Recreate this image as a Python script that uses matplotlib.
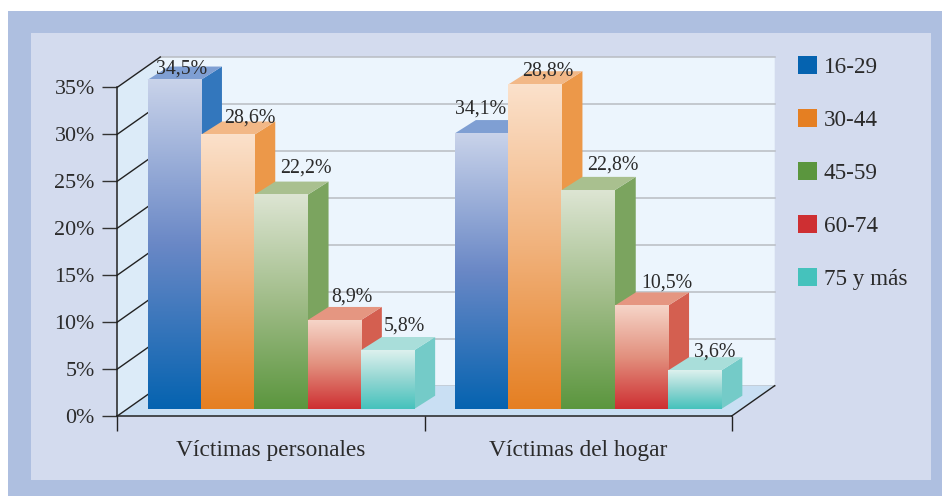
import numpy as np
import matplotlib
matplotlib.use("Agg")
import matplotlib.pyplot as plt
from matplotlib.colors import LinearSegmentedColormap
from matplotlib.patches import Patch, Polygon, Rectangle

categories = ["Víctimas personales", "Víctimas del hogar"]
ages = ["16-29", "30-44", "45-59", "60-74", "75 y más"]
y_ticks = [0, 5, 10, 15, 20, 25, 30, 35]
y_labels = ["0%", "5%", "10%", "15%", "20%", "25%", "30%", "35%"]

# bar heights as read against the axis (the printed labels do not always agree)
heights_personales = [35.05, 29.2, 22.8, 9.45, 6.25]
heights_hogar = [29.35, 34.55, 23.3, 11.0, 4.1]
labels_personales = ["34,5%", "28,6%", "22,2%", "8,9%", "5,8%"]
labels_hogar = ["34,1%", "28,8%", "22,8%", "10,5%", "3,6%"]

W, H = 942, 496
TXT = "#2b2b2b"
FONT = "Liberation Serif"
FS_TICK = 15.8
FS_CAT = 16.8
FS_LEG = 16.7
FS_VAL = 14.3

# colours per age group: legend/bottom, mid, top of front, side, top face
bottoms = ["#0563B0", "#E57F22", "#5B963E", "#CE2F32", "#45C2BC"]
mids = ["#6A88C6", "#F1B27C", "#A0BC88", "#E2907E", "#92D6D2"]
fronts = ["#C9D3EA", "#FBE1CB", "#DDE5D3", "#F6D5C8", "#DDF1EE"]
sides = ["#3377BD", "#EC9849", "#7BA45F", "#D45F50", "#74CBC8"]
tops = ["#7F9FD3", "#F2B887", "#A9C08F", "#E59681", "#A9DEDA"]

# pixel offset of each value label from the top centre of its bar
label_dx = [[7, 22, 24.5, 18, 17], [-1, 13, 24.5, 25.5, 19.5]]
label_dy = [[10.5, 17, 26.5, 23.5, 24.5], [24.5, 13.5, 25.5, 22.5, 18.5]]

fig = plt.figure(figsize=(W / 100, H / 100), dpi=100, facecolor="white")


def add_panel(x0, y0, x1, y1, color):
    fig.add_artist(Rectangle((x0 / W, 1 - y1 / H), (x1 - x0) / W, (y1 - y0) / H,
                             transform=fig.transFigure, fc=color, ec="none", zorder=-5))


add_panel(8, 11, W, H, "#AEBFE0")
add_panel(31, 33, 931, 480, "#D3DBEE")

# front plane of the pseudo 3d box
left, right, y0, y35 = 117.3, 731.7, 416.0, 87.3
ax = fig.add_axes([left / W, 1 - y0 / H, (right - left) / W, (y0 - y35) / H])
ax.patch.set_alpha(0)
ax.set_xlim(0, 2)
ax.set_ylim(0, 35)
px_x = 2 / (right - left)
px_y = 35 / (y0 - y35)

# depth of the box and of one bar, in data units
box_dx, box_dy = 43 * px_x, 30.3 * px_y
bar_dx, bar_dy = 21 * px_x, 13.3 * px_y
shift_x, shift_y = 10 * px_x, 7 * px_y
bar_w = 0.1735


def poly(points, color, z):
    ax.add_patch(Polygon(points, closed=True, fc=color, ec="none", zorder=z, clip_on=False))


# walls and floor
poly([(0, 0), (box_dx, box_dy), (2 + box_dx, box_dy), (2 + box_dx, 35 + box_dy), (box_dx, 35 + box_dy)],
     "#ECF5FD", 1)
poly([(0, 0), (box_dx, box_dy), (box_dx, 35 + box_dy), (0, 35)], "#DCEBF8", 1)
poly([(0, 0), (2, 0), (2 + box_dx, box_dy), (box_dx, box_dy)], "#C9DFF3", 1.5)

for v in y_ticks:
    ax.plot([box_dx, 2 + box_dx], [v + box_dy, v + box_dy], color="#B8BCC2", lw=1.1, zorder=1.2, clip_on=False)
    ax.plot([0, box_dx], [v, v + box_dy], color="#222222", lw=1.0, zorder=1.6, clip_on=False)
ax.plot([2, 2 + box_dx], [0, box_dy], color="#222222", lw=1.0, zorder=1.6, clip_on=False)

# bars
z = 3
for i, (vals, labs) in enumerate(zip([heights_personales, heights_hogar], [labels_personales, labels_hogar])):
    for j, (v, lab) in enumerate(zip(vals, labs)):
        x0 = i + 0.5 + (j - 2.5) * bar_w + shift_x
        x1 = x0 + bar_w
        base = shift_y
        top = base + v
        poly([(x1, base), (x1 + bar_dx, base + bar_dy), (x1 + bar_dx, top + bar_dy), (x1, top)], sides[j], z)
        poly([(x0, top), (x1, top), (x1 + bar_dx, top + bar_dy), (x0 + bar_dx, top + bar_dy)], tops[j], z)
        cmap = LinearSegmentedColormap.from_list("g", [fronts[j], mids[j], bottoms[j]])
        ax.imshow(np.linspace(0, 1, 256).reshape(-1, 1), cmap=cmap, extent=(x0, x1, base, top),
                  origin="upper", aspect="auto", zorder=z + 0.5, clip_on=False, interpolation="bilinear")
        ax.annotate(lab, ((x0 + x1) / 2, top), xytext=(label_dx[i][j] * 0.72, label_dy[i][j] * 0.72),
                    textcoords="offset points", ha="center", va="center", fontsize=FS_VAL,
                    family=FONT, color=TXT, zorder=20, annotation_clip=False)
        z += 1

ax.set_xlim(0, 2)
ax.set_ylim(0, 35)

# axes
for s in ["top", "right"]:
    ax.spines[s].set_visible(False)
for s in ["left", "bottom"]:
    ax.spines[s].set_color("#222222")
    ax.spines[s].set_linewidth(1.1)
    ax.spines[s].set_zorder(2)
ax.set_yticks(y_ticks)
ax.set_yticklabels(y_labels, fontsize=FS_TICK, family=FONT, color=TXT)
ax.set_xticks([0, 1, 2])
ax.set_xticklabels([])
ax.set_xticks([0.5, 1.5], minor=True)
ax.set_xticklabels(categories, minor=True, fontsize=FS_CAT, family=FONT, color=TXT)
ax.tick_params(axis="y", length=10.8, width=1.0, color="#333333", pad=5.5)
ax.tick_params(axis="x", which="major", length=10.8, width=1.0, color="#222222")
ax.tick_params(axis="x", which="minor", length=0, pad=17)

# legend
handles = [Patch(fc=c, ec="none") for c in bottoms]
fs_px = FS_LEG / 0.72
ax.legend(handles, ages, loc="upper left", bbox_to_anchor=(798 / W, 1 - 56 / H),
          bbox_transform=fig.transFigure, frameon=False, borderpad=0, borderaxespad=0,
          handlelength=19 / fs_px, handleheight=19 / fs_px, handletextpad=7 / fs_px,
          labelspacing=(53 - 22) / fs_px, labelcolor=TXT, prop={"family": FONT, "size": FS_LEG})

fig.savefig("out.png", dpi=100, facecolor="white")
